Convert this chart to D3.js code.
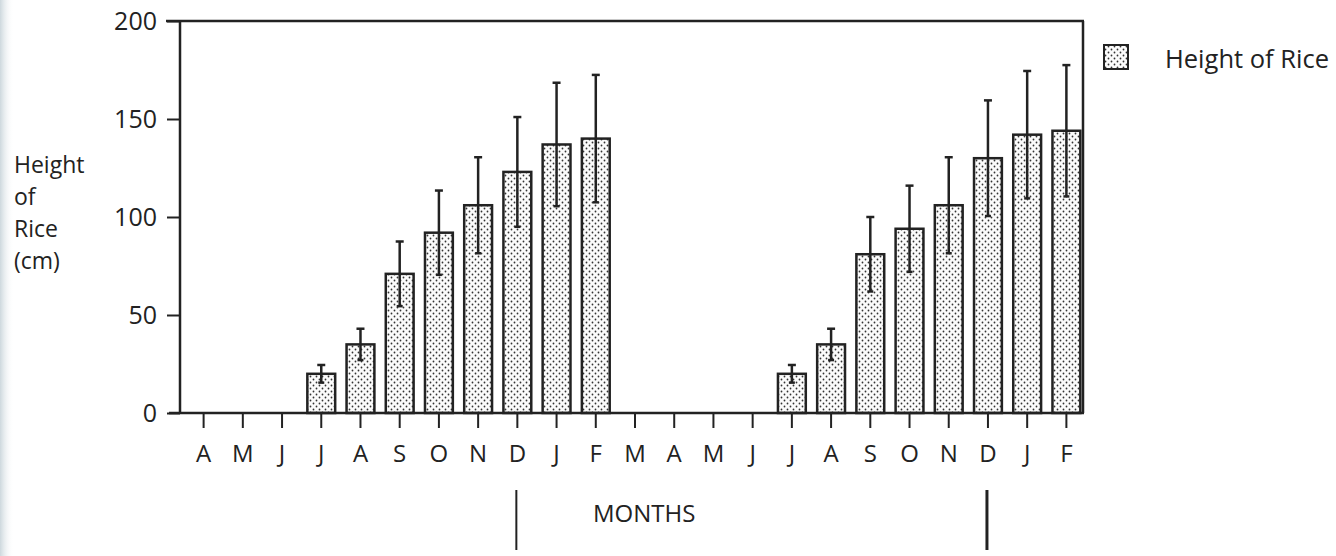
<!DOCTYPE html>
<html lang="en">
<head>
<meta charset="UTF-8">
<title>Height of Rice</title>
<script src="https://d3js.org/d3.v7.min.js"></script>
<style>
  body { margin: 0; background: #fff; }
  svg { display: block; }
  text { font-family: "Open Sans", sans-serif; fill: #222; }
  .axis text { font-size: 24px; }
</style>
</head>
<body>
<script>
// months along the x axis (two seasons)
const months = ["A","M","J","J","A","S","O","N","D","J","F","M","A","M","J","J","A","S","O","N","D","J","F"];
// mean height of rice (cm)
const heights = [0,0,0,20,35,71,92,106,123,137,140,0,0,0,0,20,35,81,94,106,130,142,144];
// half-length of the error bars (cm)
const errors = [0,0,0,4.5,8,16.5,21.5,24.5,28,31.5,32.5,0,0,0,0,4.5,8,19,22,24.5,29.5,32.5,33.5];
const yTicks = [0, 50, 100, 150, 200];
const yLabelLines = ["Height", "of", "Rice", "(cm)"];
const markerMonths = [8, 20]; // the two "D" positions marked under the axis

const W = 1336, H = 556;
const ink = "#222";
const plotL = 180, plotR = 1083, plotT = 21, plotB = 413;

const svg = d3.select("body").append("svg")
    .attr("width", W).attr("height", H);

const defs = svg.append("defs");
// scan shadow on the left edge
const grad = defs.append("linearGradient").attr("id", "edge");
grad.append("stop").attr("offset", "0%").attr("stop-color", "#cdd8dd");
grad.append("stop").attr("offset", "100%").attr("stop-color", "#fff").attr("stop-opacity", 0);
svg.append("rect").attr("x", 0).attr("y", 0).attr("width", 14).attr("height", H)
    .attr("fill", "url(#edge)");

// stippled fill for the bars
const pat = defs.append("pattern").attr("id", "dots")
    .attr("patternUnits", "userSpaceOnUse").attr("width", 6).attr("height", 6);
pat.append("rect").attr("width", 6).attr("height", 6).attr("fill", "#fbfbfb");
pat.append("circle").attr("cx", 1.5).attr("cy", 1.5).attr("r", 0.9).attr("fill", "#333");
pat.append("circle").attr("cx", 4.5).attr("cy", 4.5).attr("r", 0.9).attr("fill", "#333");

const x = d3.scaleBand()
    .domain(d3.range(months.length))
    .range([184, 1086])
    .paddingInner(0.29)
    .paddingOuter(0.145);

const y = d3.scaleLinear().domain([0, 200]).range([plotB, plotT]);

// y axis
const yAxis = svg.append("g").attr("class", "axis")
    .attr("transform", `translate(${plotL},0)`)
    .call(d3.axisLeft(y).tickValues(yTicks).tickSize(13).tickPadding(10));
yAxis.select(".domain").remove();
yAxis.selectAll("line").attr("stroke", ink).attr("stroke-width", 2);
yAxis.selectAll("text").style("font-size", "25px");

// x axis
const xAxis = svg.append("g").attr("class", "axis")
    .attr("transform", `translate(0,${plotB})`)
    .call(d3.axisBottom(x).tickFormat(i => months[i]).tickSize(15).tickPadding(17));
xAxis.select(".domain").remove();
xAxis.selectAll("line").attr("stroke", ink).attr("stroke-width", 2);

// frame
const frame = svg.append("g").attr("stroke", ink).attr("stroke-width", 2.5).attr("fill", "none");
frame.append("line").attr("x1", plotL).attr("x2", plotL).attr("y1", plotT).attr("y2", plotB);
frame.append("line").attr("x1", 166).attr("x2", plotR + 1).attr("y1", plotT).attr("y2", plotT);
frame.append("line").attr("x1", plotR).attr("x2", plotR).attr("y1", plotT).attr("y2", plotB);

// bars
const data = heights.map((v, i) => ({ i, v, e: errors[i] })).filter(d => d.v > 0);

svg.append("g").selectAll("rect")
    .data(data)
  .join("rect")
    .attr("x", d => x(d.i))
    .attr("y", d => y(d.v))
    .attr("width", x.bandwidth())
    .attr("height", d => plotB - y(d.v))
    .attr("fill", "url(#dots)")
    .attr("stroke", ink)
    .attr("stroke-width", 2.5);

// error bars
const eb = svg.append("g").attr("stroke", ink).attr("stroke-width", 2.5)
  .selectAll("g").data(data).join("g")
    .attr("transform", d => `translate(${x(d.i) + x.bandwidth() / 2},0)`);
eb.append("line").attr("y1", d => y(d.v + d.e)).attr("y2", d => y(d.v - d.e));
eb.append("line").attr("x1", -4).attr("x2", 4)
    .attr("y1", d => y(d.v + d.e)).attr("y2", d => y(d.v + d.e));
eb.append("line").attr("x1", -3).attr("x2", 3)
    .attr("y1", d => y(d.v - d.e)).attr("y2", d => y(d.v - d.e));

// baseline on top of the bars
svg.append("line").attr("x1", 169).attr("x2", plotR + 1).attr("y1", plotB).attr("y2", plotB)
    .attr("stroke", ink).attr("stroke-width", 2.5);

// y label
svg.append("text").attr("x", 14).attr("y", 173).style("font-size", "23px")
  .selectAll("tspan").data(yLabelLines).join("tspan")
    .attr("x", 14).attr("dy", (d, i) => i ? 32 : 0)
    .text(d => d);

// x title and season markers
svg.append("text").attr("x", 593).attr("y", 522).style("font-size", "24px").text("MONTHS");
svg.append("g").selectAll("line").data(markerMonths).join("line")
    .attr("x1", d => x(d) + x.bandwidth() / 2 - 1)
    .attr("x2", d => x(d) + x.bandwidth() / 2 - 1)
    .attr("y1", 490).attr("y2", 550)
    .attr("stroke", ink).attr("stroke-width", (d, i) => i ? 3 : 2);

// legend
svg.append("rect").attr("x", 1104).attr("y", 45).attr("width", 24).attr("height", 24)
    .attr("fill", "url(#dots)").attr("stroke", ink).attr("stroke-width", 2);
svg.append("text").attr("x", 1165).attr("y", 68)
    .style("font-size", "25.5px").text("Height of Rice");
</script>
</body>
</html>
